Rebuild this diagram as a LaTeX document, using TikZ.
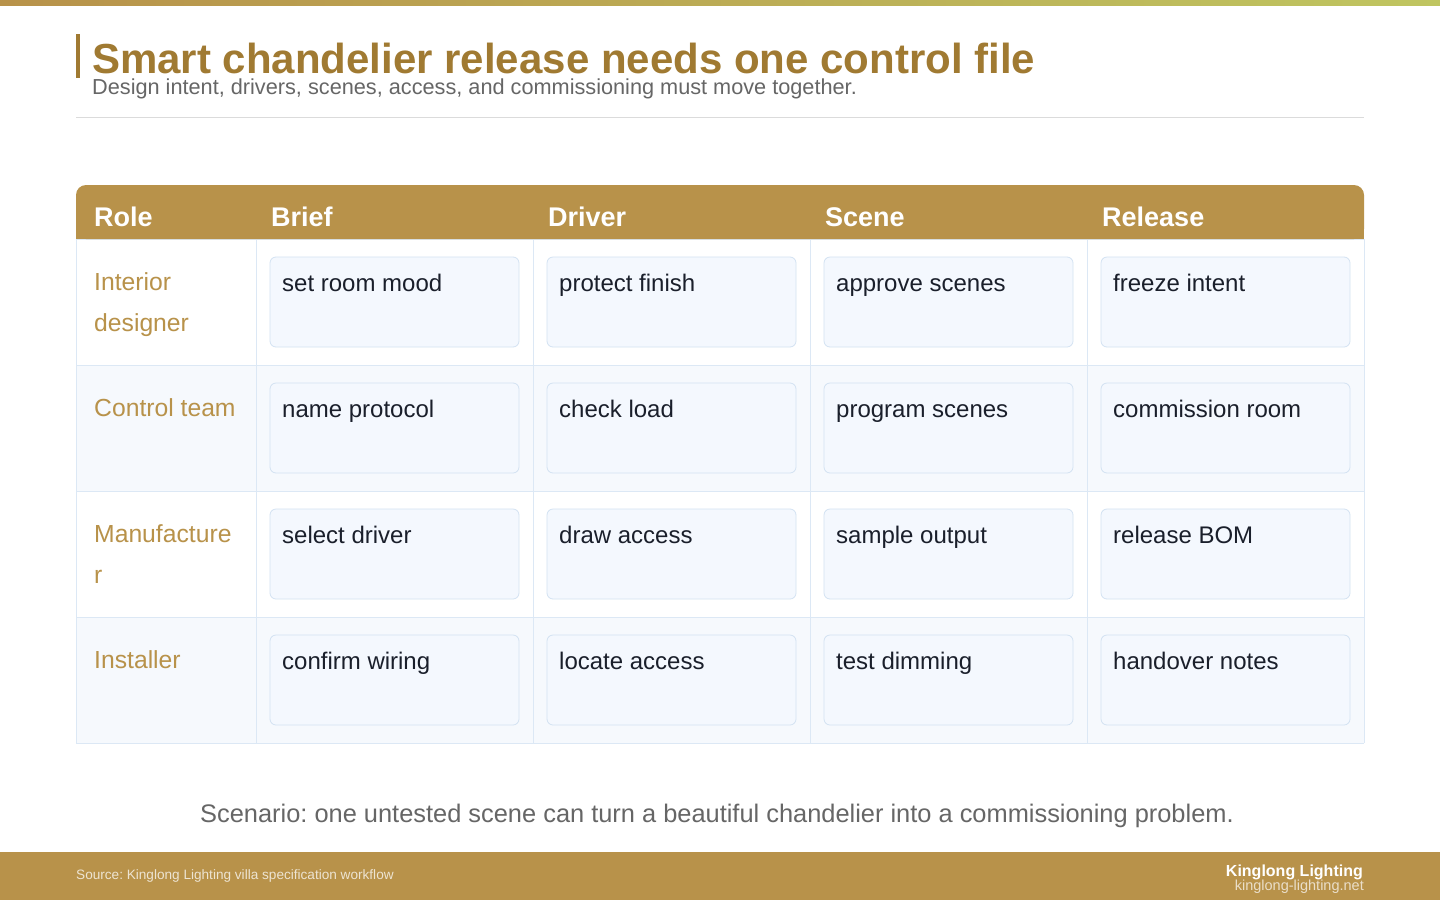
\documentclass[tikz,border=0pt]{standalone}
\usepackage{fontspec}
\setmainfont{Liberation Sans}
\frenchspacing
\definecolor{gold}{HTML}{B8924A}
\definecolor{goldd}{HTML}{A07A32}
\definecolor{lime}{HTML}{BFC560}
\definecolor{cardf}{HTML}{F4F8FE}
\definecolor{cardb}{HTML}{D3E2F2}
\definecolor{rowb}{HTML}{F6F9FD}
\definecolor{grid}{HTML}{DCE8F5}
\definecolor{ink}{HTML}{1A1F2B}
\definecolor{sub}{HTML}{666666}
\begin{document}
\begin{tikzpicture}[x=1pt,y=-1pt,
  card/.style={draw=cardb,fill=cardf,rounded corners=6pt,line width=0.8pt},
  ctext/.style={anchor=base west,text=ink,font=\fontsize{24}{28}\selectfont},
  rtext/.style={anchor=north west,text=gold,align=left,font=\fontsize{24.7}{41}\selectfont,inner sep=0pt},
  htext/.style={anchor=base west,text=white,font=\bfseries\fontsize{27}{30}\selectfont,inner sep=0pt}]
\useasboundingbox (0,0) rectangle (1440,900);
\fill[white] (0,0) rectangle (1440,900);
\shade[left color=gold,right color=lime] (0,0) rectangle (1440,5);
\fill[goldd] (76,34) rectangle (80,78);
\node[anchor=base west,inner sep=0pt,text=goldd,font=\bfseries\fontsize{42}{44}\selectfont] (title) at (92,73) {Smart chandelier release needs one control file};
\node[anchor=base west,inner sep=0pt,text=sub,font=\fontsize{21.7}{24}\selectfont] (subt) at (92,94) {Design intent, drivers, scenes, access, and commissioning must move together.};
\draw[draw=black!14] (76,117.5) -- (1364,117.5);
\foreach \r/\c in {0/white,1/rowb,2/white,3/rowb}{
  \fill[\c] (76,239+126*\r) rectangle (1364,365+126*\r);
}
\foreach \y in {239,365,491,617,743} \draw[grid] (76,\y) -- (1364,\y);
\foreach \x in {76,256,533,810,1087,1364} \draw[grid] (\x,239) -- (\x,743);
\fill[gold,rounded corners=10pt] (76,185) rectangle (1364,239);
\fill[gold] (76,225) rectangle (1364,239);
\node[htext] (h0) at (94,226) {Role};
\node[htext] (h1) at (271,226) {Brief};
\node[htext] (h2) at (548,226) {Driver};
\node[htext] (h3) at (825,226) {Scene};
\node[htext] (h4) at (1102,226) {Release};
\node[rtext] (r0) at (94,272) {Interior\\designer};
\node[rtext] (r1) at (94,398) {Control team};
\node[rtext] (r2) at (94,524) {Manufacture\\r};
\node[rtext] (r3) at (94,650) {Installer};
\foreach \r/\a/\b/\c/\d in {0/set room mood/protect finish/approve scenes/freeze intent,
  1/name protocol/check load/program scenes/commission room,
  2/select driver/draw access/sample output/release BOM,
  3/confirm wiring/locate access/test dimming/handover notes}{
  \foreach \x/\t [count=\i] in {256/\a,533/\b,810/\c,1087/\d}{
    \draw[card] (\x+14,257+126*\r) rectangle (\x+263,347+126*\r);
    \node[ctext,inner sep=0pt] (c\r\i) at (\x+26,291+126*\r) {\t};
  }
}
\node[text=sub,font=\fontsize{25.4}{28}\selectfont] (scen) at (717,816) {Scenario: one untested scene can turn a beautiful chandelier into a commissioning problem.};
\fill[gold] (0,852) rectangle (1440,900);
\node[anchor=base west,inner sep=0pt,text=white!75!gold,font=\fontsize{13.6}{15}\selectfont] (src) at (76,879) {Source: Kinglong Lighting villa specification workflow};
\node[anchor=base east,inner sep=0pt,text=white,font=\bfseries\fontsize{16}{17}\selectfont] (brand) at (1363,876) {Kinglong Lighting};
\node[anchor=base east,inner sep=0pt,text=white!70!gold,font=\fontsize{14.5}{16}\selectfont] (url) at (1364,890) {kinglong-lighting.net};
\end{tikzpicture}
\end{document}
